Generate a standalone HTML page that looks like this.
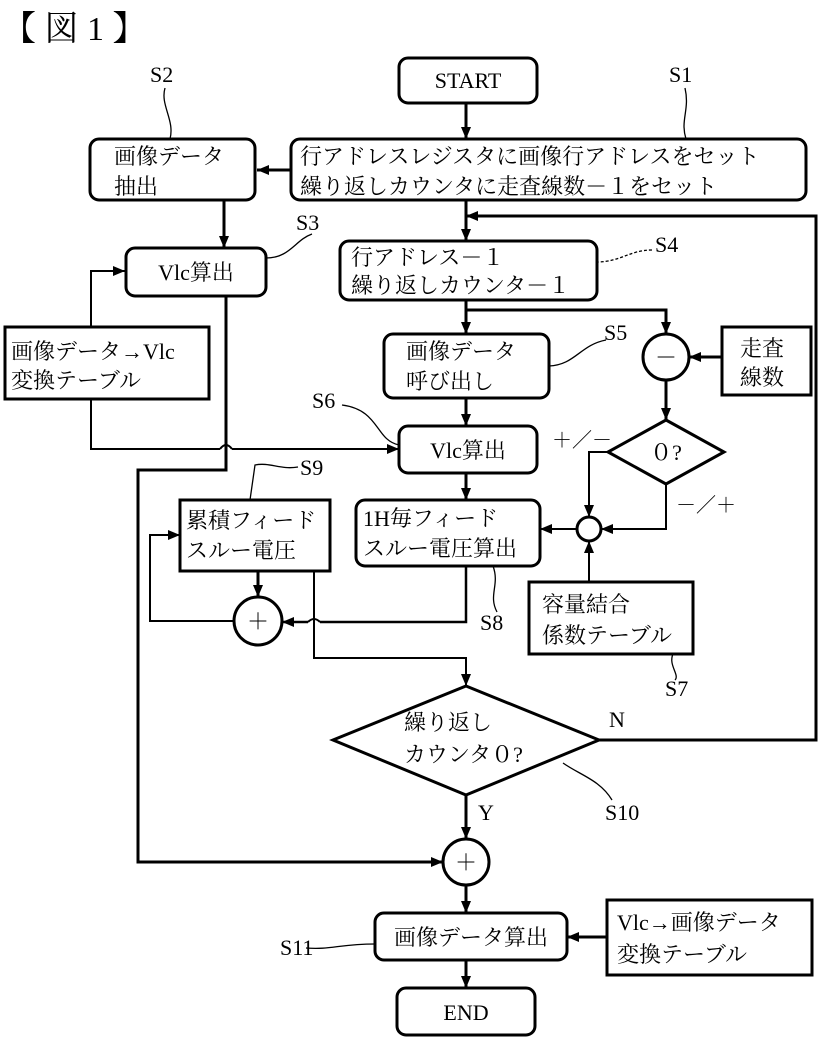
<!DOCTYPE html>
<html><head><meta charset="utf-8"><style>
html,body{margin:0;padding:0;background:#fff;}
svg{display:block;}
text{font-family:"Liberation Serif","Noto Serif CJK SC","Noto Sans CJK JP",serif;fill:#000;}
</style></head><body>
<svg width="821" height="1040" viewBox="0 0 821 1040" xmlns="http://www.w3.org/2000/svg">
<defs>
<marker id="a" viewBox="0 0 10 10" refX="10" refY="5" markerWidth="5" markerHeight="5" orient="auto-start-reverse" markerUnits="userSpaceOnUse"><path d="M0,0 L10,5 L0,10z" fill="#000"/></marker>
<marker id="b" viewBox="0 0 10 10" refX="10" refY="5" markerWidth="12" markerHeight="10" orient="auto" markerUnits="userSpaceOnUse" preserveAspectRatio="none"><path d="M0,0 L10,5 L0,10z" fill="#000"/></marker>
</defs>
<text x="2" y="40" font-size="34" font-family="Noto Sans CJK JP,sans-serif">【 図 1 】</text>
<g fill="none" stroke="#000" stroke-width="3">
<!-- boxes -->
<rect x="399" y="58" width="138" height="45" rx="9"/>
<rect x="291" y="139" width="515" height="61" rx="9"/>
<rect x="90" y="139" width="165" height="61" rx="9"/>
<rect x="126" y="248" width="140" height="48" rx="9"/>
<rect x="5" y="327" width="204" height="72"/>
<rect x="340" y="241" width="257" height="59" rx="9"/>
<rect x="384" y="334" width="165" height="64" rx="9"/>
<rect x="399" y="426" width="138" height="47" rx="9"/>
<rect x="356" y="500" width="184" height="66" rx="9"/>
<rect x="180" y="500" width="150" height="71"/>
<rect x="722" y="327" width="89" height="68"/>
<rect x="529" y="582" width="164" height="72"/>
<rect x="375" y="913" width="192" height="47" rx="9"/>
<rect x="607" y="900" width="205" height="75"/>
<rect x="397" y="988" width="138" height="47" rx="9"/>
<circle cx="666" cy="357" r="23"/>
<circle cx="589" cy="529" r="12"/>
<circle cx="258" cy="621" r="24"/>
<circle cx="466" cy="862" r="23"/>
<path d="M666,420 L724,452 L666,484 L608,452Z"/>
<path d="M466,686 L599,740 L466,795 L333,740Z"/>
</g>
<g fill="none" stroke="#000" stroke-width="3">
<!-- main flow -->
<line x1="466" y1="103" x2="466" y2="139" marker-end="url(#b)"/>
<line x1="291" y1="170" x2="257" y2="170" marker-end="url(#b)"/>
<line x1="224" y1="200" x2="224" y2="248" marker-end="url(#b)"/>
<line x1="466" y1="200" x2="466" y2="241" marker-end="url(#b)"/>
<line x1="466" y1="300" x2="466" y2="334" marker-end="url(#b)"/>
<polyline points="466,310 666,310 666,334" marker-end="url(#b)"/>
<line x1="466" y1="398" x2="466" y2="426" marker-end="url(#b)"/>
<line x1="466" y1="473" x2="466" y2="500" marker-end="url(#b)"/>
<line x1="722" y1="357" x2="689" y2="357" marker-end="url(#b)"/>
<line x1="666" y1="380" x2="666" y2="420" marker-end="url(#b)"/>
<polyline points="608,452 589,452 589,517" stroke-width="2" marker-end="url(#b)"/>
<polyline points="666,484 666,529 601,529" stroke-width="2" marker-end="url(#b)"/>
<line x1="577" y1="529" x2="540" y2="529" stroke-width="2" marker-end="url(#b)"/>
<line x1="589" y1="582" x2="589" y2="541" stroke-width="2" marker-end="url(#b)"/>
<line x1="258" y1="571" x2="258" y2="597" marker-end="url(#b)"/>
<polyline points="234,621 150,621 150,535 180,535" stroke-width="2" marker-end="url(#b)"/>
<polyline points="466,566 466,622 320,622" stroke-width="2.5"/>
<path d="M320,622 Q314,616 308,622" stroke-width="2"/>
<line x1="308" y1="622" x2="282" y2="622" stroke-width="2.5" marker-end="url(#b)"/>
<polyline points="314,571 314,658 466,658 466,686" stroke-width="2" marker-end="url(#b)"/>
<polyline points="599,740 816,740 816,216 466,216" marker-end="url(#b)"/>
<line x1="466" y1="795" x2="466" y2="839" marker-end="url(#b)"/>
<polyline points="226,296 226,470 138,470 138,862 443,862" marker-end="url(#b)"/>
<line x1="466" y1="885" x2="466" y2="913" marker-end="url(#b)"/>
<line x1="607" y1="937" x2="567" y2="937" marker-end="url(#b)"/>
<line x1="466" y1="960" x2="466" y2="988" marker-end="url(#b)"/>
<polyline points="91,327 91,271 125,271" stroke-width="2" marker-end="url(#b)"/>
<polyline points="91,399 91,449 220,449" stroke-width="2"/>
<path d="M220,449 Q226,441 232,449" stroke-width="2"/>
<line x1="232" y1="449" x2="399" y2="449" stroke-width="2" marker-end="url(#b)"/>
</g>
<g fill="none" stroke="#000" stroke-width="1.3">
<path d="M685,88 C690,110 680,120 686,139"/>
<path d="M165,88 C160,105 175,120 170,139"/>
<path d="M312,234 C295,240 290,258 266,258"/>
<path d="M652,250 C630,250 620,262 597,262" stroke-dasharray="3,2"/>
<path d="M606,340 C580,345 575,365 549,366"/>
<path d="M342,405 C380,410 375,440 399,445"/>
<path d="M298,467 C280,470 270,462 255,465 L250,500"/>
<path d="M493,566 C500,585 488,595 497,612"/>
<path d="M673,654 C668,665 680,675 675,680"/>
<path d="M563,763 C580,775 600,780 612,800"/>
<path d="M306,948 C330,950 340,944 375,944"/>
</g>
<g font-size="22">
<text x="468" y="88" text-anchor="middle">START</text>
<text x="669" y="82">S1</text>
<text x="150" y="82">S2</text>
<text x="296" y="230">S3</text>
<text x="655" y="252">S4</text>
<text x="604" y="340">S5</text>
<text x="312" y="408">S6</text>
<text x="300" y="475">S9</text>
<text x="480" y="630">S8</text>
<text x="665" y="696">S7</text>
<text x="605" y="820">S10</text>
<text x="280" y="955">S11</text>
<text x="609" y="727">N</text>
<text x="478" y="820">Y</text>
<text x="552" y="447" font-size="20">＋／－</text>
<text x="676" y="512" font-size="20">－／＋</text>
<text x="300" y="164">行アドレスレジスタに画像行アドレスをセット</text>
<text x="300" y="194">繰り返しカウンタに走査線数－１をセット</text>
<text x="114" y="164">画像データ</text>
<text x="114" y="194">抽出</text>
<text x="196" y="280" text-anchor="middle">Vlc算出</text>
<text x="11" y="359">画像データ→Vlc</text>
<text x="11" y="388">変換テーブル</text>
<text x="351" y="265">行アドレス－１</text>
<text x="351" y="293">繰り返しカウンタ－１</text>
<text x="406" y="359">画像データ</text>
<text x="406" y="389">呼び出し</text>
<text x="468" y="458" text-anchor="middle">Vlc算出</text>
<text x="363" y="526">1H毎フィード</text>
<text x="363" y="556">スルー電圧算出</text>
<text x="186" y="528">累積フィード</text>
<text x="186" y="558">スルー電圧</text>
<text x="740" y="356">走査</text>
<text x="740" y="385">線数</text>
<text x="542" y="612">容量結合</text>
<text x="542" y="643">係数テーブル</text>
<text x="666" y="460" text-anchor="middle">０?</text>
<text x="404" y="730">繰り返し</text>
<text x="404" y="762">カウンタ０?</text>
<text x="471" y="945" text-anchor="middle">画像データ算出</text>
<text x="617" y="930">Vlc→画像データ</text>
<text x="617" y="962">変換テーブル</text>
<text x="466" y="1020" text-anchor="middle">END</text>
<text x="666" y="365" text-anchor="middle">－</text>
<text x="258" y="629" text-anchor="middle">＋</text>
<text x="466" y="870" text-anchor="middle">＋</text>
</g>
</svg>
</body></html>
